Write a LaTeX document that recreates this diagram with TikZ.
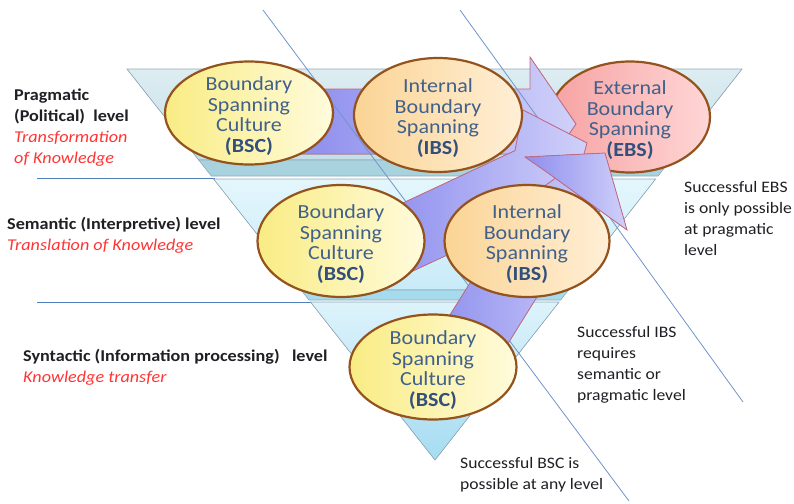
\documentclass[tikz,border=0pt]{standalone}
\usepackage{fontspec}
\setmainfont{Carlito}[FakeStretch=1.1]
\usetikzlibrary{shapes.geometric}
\definecolor{sepblue}{HTML}{4F81BD}
\definecolor{diagblue}{HTML}{6F95C8}
\definecolor{bandedge}{HTML}{8FA9B9}
\definecolor{topA}{HTML}{DDEDF2}
\definecolor{topB}{HTML}{C4DFE8}
\definecolor{topS}{HTML}{A8D2DE}
\definecolor{midA}{HTML}{E4F6FC}
\definecolor{midB}{HTML}{C8EBF8}
\definecolor{midS}{HTML}{A6DBEE}
\definecolor{botA}{HTML}{DDF3FB}
\definecolor{botB}{HTML}{A6DCF1}
\definecolor{ellbrd}{HTML}{94531C}
\definecolor{bscL}{HTML}{F9EC84}
\definecolor{bscR}{HTML}{FFFBDC}
\definecolor{ibsL}{HTML}{FBD495}
\definecolor{ibsR}{HTML}{FFEFD6}
\definecolor{ebsL}{HTML}{F6A2A2}
\definecolor{ebsR}{HTML}{FFD6D6}
\definecolor{arrL}{HTML}{8E8EEE}
\definecolor{arrR}{HTML}{D0D0FA}
\definecolor{arrE}{HTML}{C46A80}
\definecolor{etxt}{HTML}{41618B}
\definecolor{etxtb}{HTML}{33507C}
\definecolor{lbltxt}{HTML}{1F1F24}
\definecolor{lblred}{HTML}{FF3535}
\begin{document}
\begin{tikzpicture}[x=1pt,y=-1pt,
  band/.style={draw=bandedge,line width=0.6pt},
  ell/.style={ellipse,draw=ellbrd,line width=2.2pt,inner sep=0pt},
  bscell/.style={ell,left color=bscL,right color=bscR},
  ibsell/.style={ell,left color=ibsL,right color=ibsR},
  ebsell/.style={ell,left color=ebsL,right color=ebsR},
  etext/.style={align=center,inner sep=0pt,text=etxt,font=\fontsize{20}{20.5}\selectfont},
  blockarrow/.style={draw=arrE,line width=0.8pt,left color=arrL,right color=arrR},
  sepline/.style={draw=sepblue,line width=0.8pt},
  diagline/.style={draw=diagblue,line width=0.8pt},
  lbl/.style={align=left,anchor=base west,inner sep=0pt,text=lbltxt,font=\fontsize{16.5}{21}\selectfont},
  note/.style={align=left,anchor=base west,inner sep=0pt,text=lbltxt,font=\fontsize{16}{21}\selectfont}
]
\useasboundingbox (0,0) rectangle (794,503);
% level separator lines
\draw[sepline] (37,178) -- (215,178);
\draw[sepline] (37,302) -- (312,302);
% pyramid bands
\filldraw[band,top color=topA,bottom color=topB] (127,69) -- (742,69) -- (670.6,160) -- (198.7,160) -- cycle;
\filldraw[band,fill=topS] (198.7,160) -- (670.6,160) -- (658,176) -- (211.3,176) -- cycle;
\filldraw[band,top color=midA,bottom color=midB] (213.6,179) -- (655.6,179) -- (568.5,290) -- (301.1,290) -- cycle;
\filldraw[band,fill=midS] (301.1,290) -- (568.5,290) -- (560.6,300) -- (309,300) -- cycle;
\filldraw[band,top color=botA,bottom color=botB] (310.5,302) -- (559.1,302) -- (435,460) -- cycle;
% external ellipse (under the arrow heads)
\node[ebsell,minimum width=160,minimum height=111] (ebs) at (630,117) {};
% arrow A (pragmatic level)
\filldraw[blockarrow] (300,89) -- (530,89) -- (530,57) -- (576,124) -- (530,190) -- (530,154) -- (300,154) -- cycle;
% diagonal lines
\coordinate (d1a) at (263,10);
\coordinate (d1b) at (629,501);
\coordinate (d2a) at (460,10);
\coordinate (d2b) at (743,402);
\draw[diagline] (d1a) -- (d1b);
\draw[diagline] (d2a) -- (d2b);
% arrow B (semantic level)
\filldraw[blockarrow] (380,213.7) -- (515,150.6) -- (523,110) -- (587,143) -- (560,240) -- (530,216.3) -- (380,286.4) -- cycle;
% arrow C (syntactic level) body and head
\filldraw[blockarrow] (428,350) -- (470,283) -- (543,187) -- (560,175) -- (610,200) -- (572,240) -- (540,292) -- (504,350) -- cycle;
\filldraw[blockarrow] (525,157) -- (605,153) -- (627,230) -- (548,173) -- cycle;
% ellipses
\node[bscell,minimum width=168,minimum height=103] (bsc1) at (249,113) {};
\node[ibsell,minimum width=168,minimum height=114] (ibs1) at (438,115) {};
\node[bscell,minimum width=167,minimum height=112] (bsc2) at (341,241) {};
\node[ibsell,minimum width=165,minimum height=112] (ibs2) at (527,241) {};
\node[bscell,minimum width=167,minimum height=105] (bsc3) at (433,367) {};
% ellipse texts
\node[etext] (bsc1t) at ([yshift=-3pt]bsc1.center) {Boundary\\Spanning\\Culture\\\textbf{\textcolor{etxtb}{(BSC)}}};
\node[etext] (ibs1t) at ([yshift=-3pt]ibs1.center) {Internal\\Boundary\\Spanning\\\textbf{\textcolor{etxtb}{(IBS)}}};
\node[etext] (ebst) at ([yshift=-3pt]ebs.center) {External\\Boundary\\Spanning\\\textbf{\textcolor{etxtb}{(EBS)}}};
\node[etext] (bsc2t) at ([yshift=-3pt]bsc2.center) {Boundary\\Spanning\\Culture\\\textbf{\textcolor{etxtb}{(BSC)}}};
\node[etext] (ibs2t) at ([yshift=-3pt]ibs2.center) {Internal\\Boundary\\Spanning\\\textbf{\textcolor{etxtb}{(IBS)}}};
\node[etext] (bsc3t) at ([yshift=-3pt]bsc3.center) {Boundary\\Spanning\\Culture\\\textbf{\textcolor{etxtb}{(BSC)}}};
% level labels (anchored at the baseline of the last line)
\node[lbl] (prag) at (14,163) {\textbf{Pragmatic}\\\textbf{(Political)\ \ level}\\\textcolor{lblred}{\textit{Transformation}}\\\textcolor{lblred}{\textit{of Knowledge}}};
\node[lbl] (sema) at (7,250) {\textbf{Semantic (Interpretive) level}\\\textcolor{lblred}{\textit{Translation of Knowledge}}};
\node[lbl] (synt) at (23,382) {\textbf{Syntactic (Information processing)\ \ \ level}\\\textcolor{lblred}{\textit{Knowledge transfer}}};
% notes
\node[note] (nebs) at (684,255) {Successful EBS\\is only possible\\at pragmatic\\level};
\node[note] (nibs) at (577,400) {Successful IBS\\requires\\semantic or\\pragmatic level};
\node[note] (nbsc) at (460,489) {Successful BSC is\\possible at any level};
\end{tikzpicture}
\end{document}
